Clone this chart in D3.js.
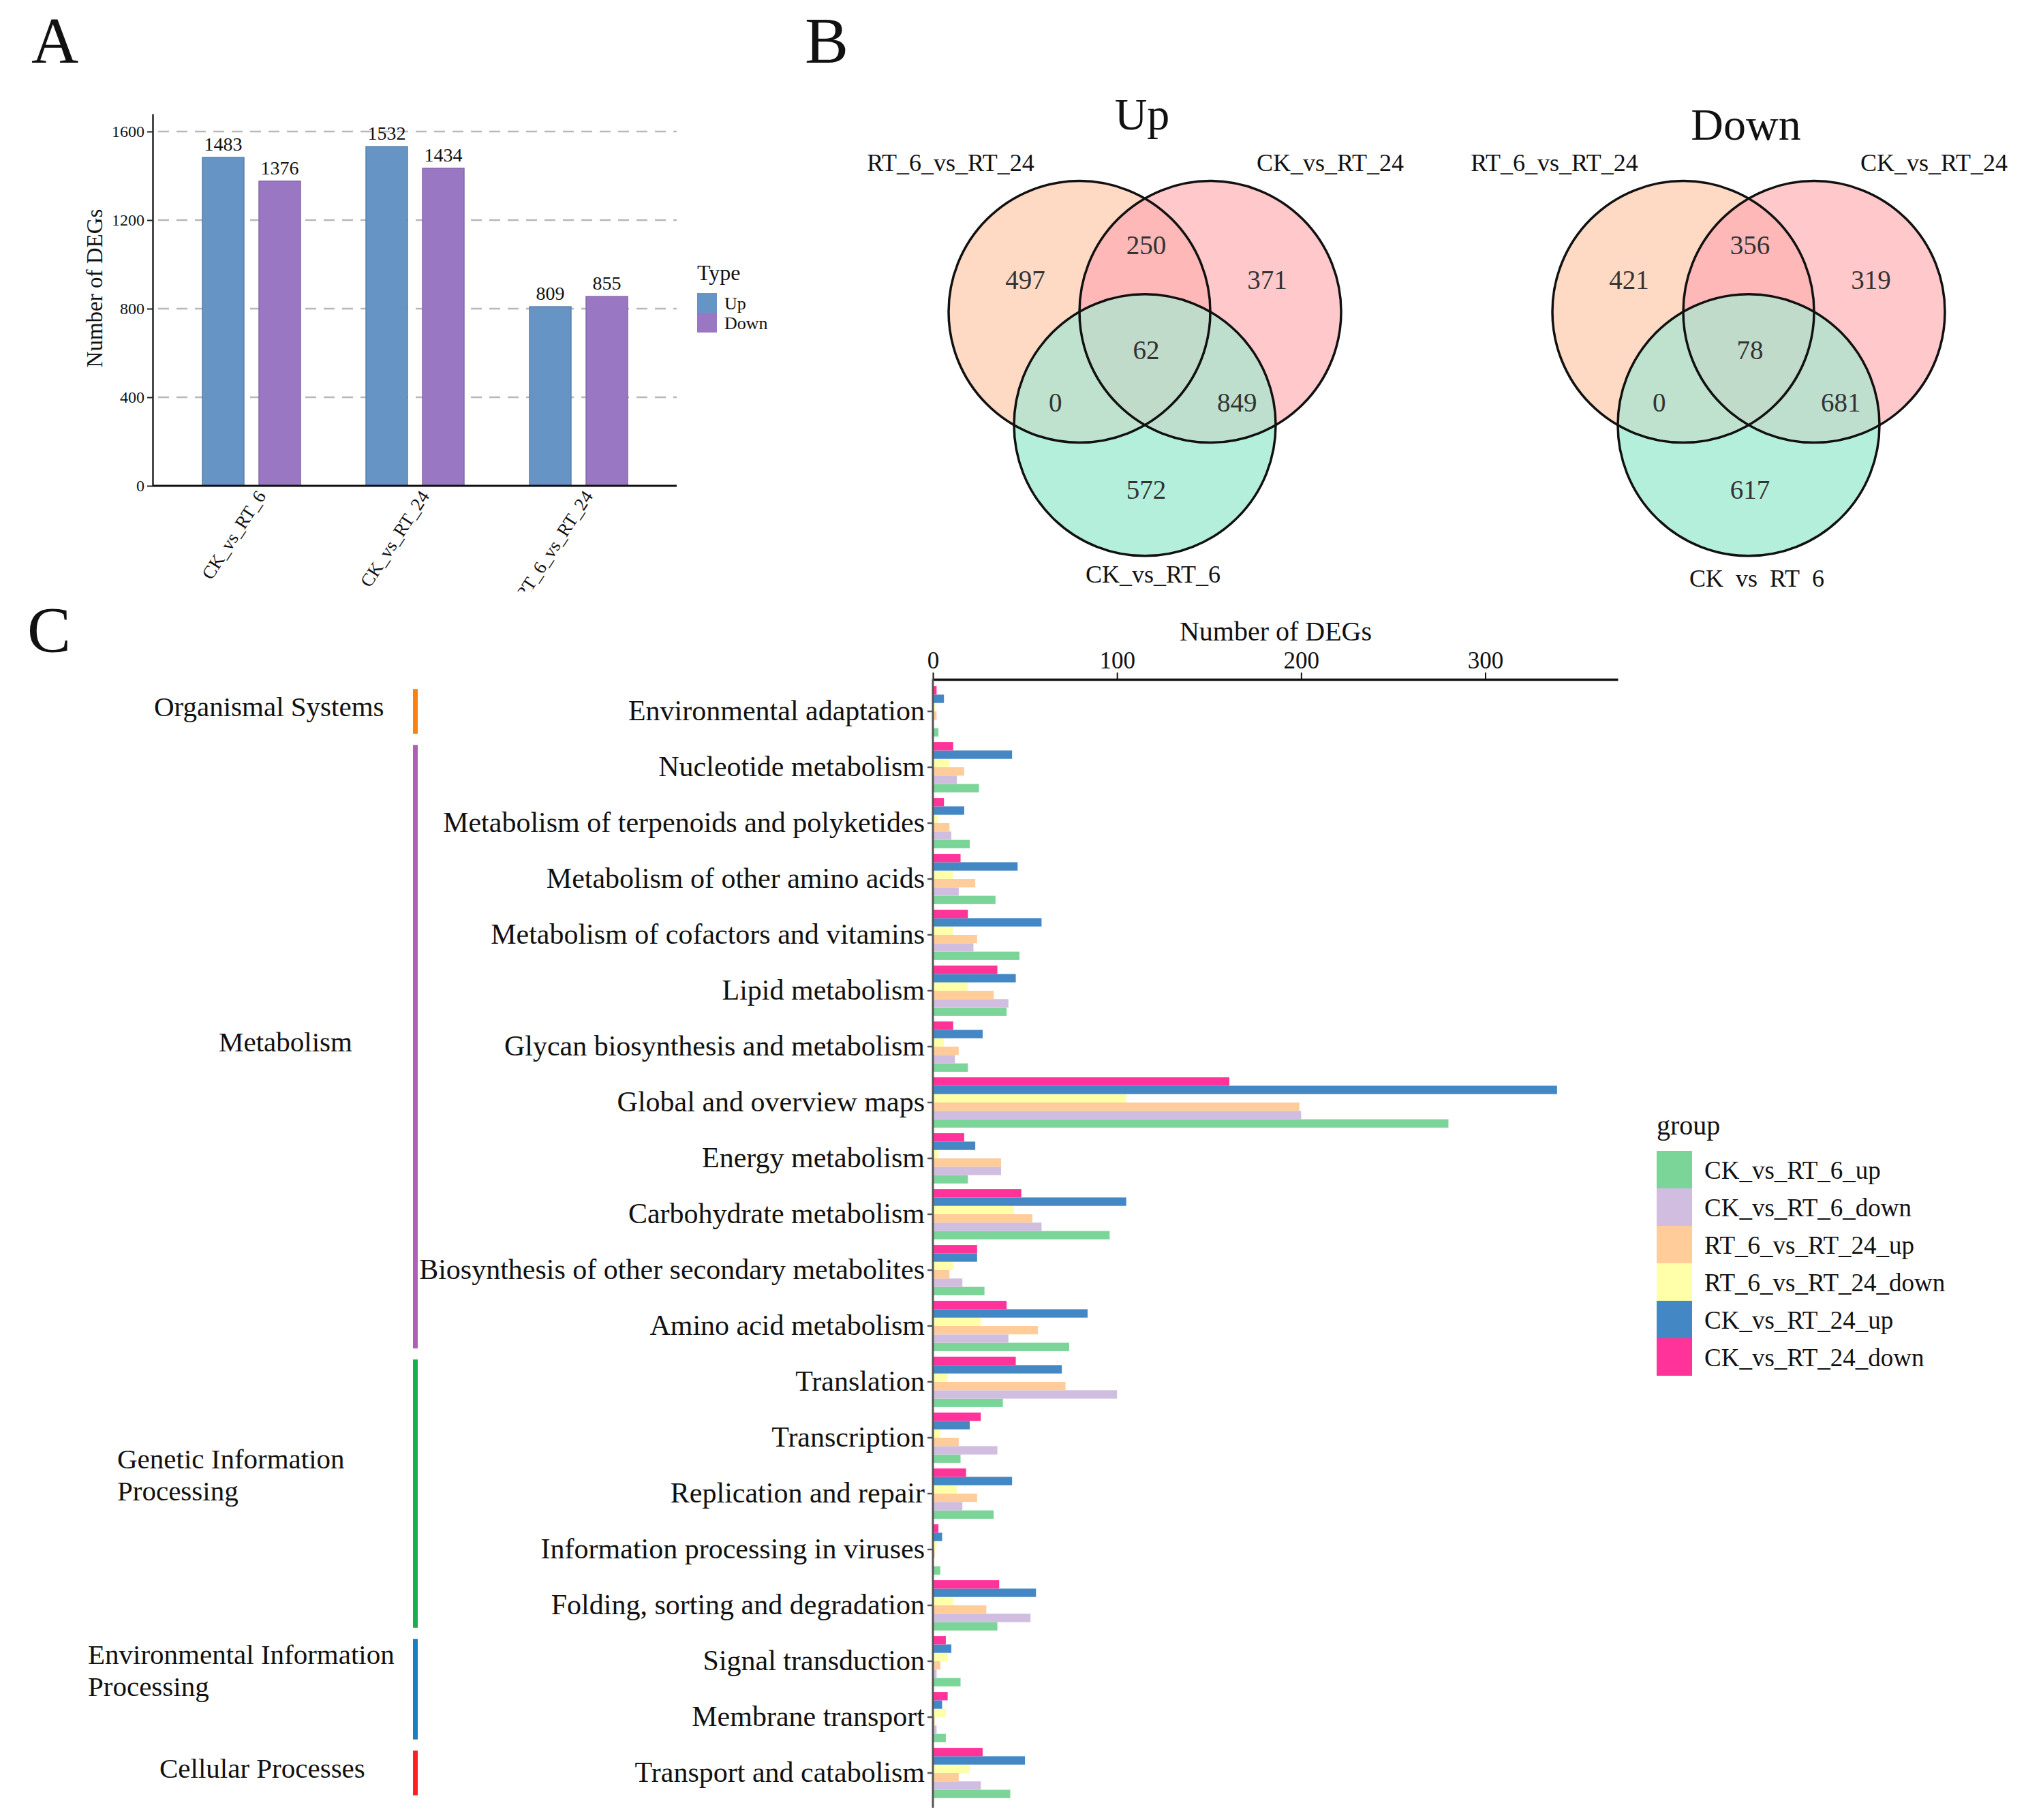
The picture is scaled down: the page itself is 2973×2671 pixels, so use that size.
<!DOCTYPE html>
<html>
<head>
<meta charset="utf-8">
<script src="https://cdn.jsdelivr.net/npm/d3@7"></script>
<style>
  body { margin: 0; background: #fff; }
  svg { display: block; }
  text { font-family: "Liberation Serif", "DejaVu Serif", serif; fill: #111; }
</style>
</head>
<body>
<svg id="fig" width="2973" height="2671"></svg>
<script>
// ---- panel A : number of DEGs per comparison
const comparisons = ['CK_vs_RT_6', 'CK_vs_RT_24', 'RT_6_vs_RT_24']
const types = ['Up', 'Down']
const upCounts = [1483, 1532, 809]
const downCounts = [1376, 1434, 855]
const countTicks = [0, 400, 800, 1200, 1600]

// ---- panel B : venn regions (A = RT_6_vs_RT_24, B = CK_vs_RT_24, C = CK_vs_RT_6)
const vennSets = ['RT_6_vs_RT_24', 'CK_vs_RT_24', 'CK_vs_RT_6']
const vennRegions = ['A', 'AB', 'B', 'ABC', 'AC', 'BC', 'C']
const vennUpCounts = [497, 250, 371, 62, 0, 849, 572]
const vennDownCounts = [421, 356, 319, 78, 0, 681, 617]

// ---- panel C : KEGG classification
const keggClasses = ['Organismal Systems', 'Metabolism', 'Genetic Information Processing',
    'Environmental Information Processing', 'Cellular Processes']
const classSizes = [1, 11, 5, 2, 1]
const pathways = ['Environmental adaptation', 'Nucleotide metabolism',
    'Metabolism of terpenoids and polyketides', 'Metabolism of other amino acids',
    'Metabolism of cofactors and vitamins', 'Lipid metabolism', 'Glycan biosynthesis and metabolism',
    'Global and overview maps', 'Energy metabolism', 'Carbohydrate metabolism',
    'Biosynthesis of other secondary metabolites', 'Amino acid metabolism', 'Translation',
    'Transcription', 'Replication and repair', 'Information processing in viruses',
    'Folding, sorting and degradation', 'Signal transduction', 'Membrane transport',
    'Transport and catabolism']
const groups = ['CK_vs_RT_6_up', 'CK_vs_RT_6_down', 'RT_6_vs_RT_24_up',
    'RT_6_vs_RT_24_down', 'CK_vs_RT_24_up', 'CK_vs_RT_24_down']
const ckRt6Up     = [3, 25, 20, 34, 47, 40, 19, 280, 19, 96, 28, 74, 38, 15, 33, 4, 35, 15, 7, 42]
const ckRt6Down   = [0, 13, 10, 14, 22, 41, 12, 200, 37, 59, 16, 41, 100, 35, 16, 0, 53, 2, 2, 26]
const rt6Rt24Up   = [2, 17, 9, 23, 24, 33, 14, 199, 37, 54, 9, 57, 72, 14, 24, 1, 29, 4, 1, 14]
const rt6Rt24Down = [1, 9, 3, 11, 11, 19, 6, 105, 3, 44, 11, 26, 8, 4, 13, 2, 11, 8, 7, 20]
const ckRt24Up    = [6, 43, 17, 46, 59, 45, 27, 339, 23, 105, 24, 84, 70, 20, 43, 5, 56, 10, 5, 50]
const ckRt24Down  = [2, 11, 6, 15, 19, 35, 11, 161, 17, 48, 24, 40, 45, 26, 18, 3, 36, 7, 8, 27]
const degTicks = [0, 100, 200, 300]

const svg = d3.select('#fig')
const defs = svg.append('defs')
svg.append('rect').attr('width', 2973).attr('height', 2671).attr('fill', '#fff')

// panel letters
svg.selectAll('.panel-letter')
    .data([['A', 46, 92], ['B', 1181, 92], ['C', 40, 957]])
    .enter().append('text')
        .attr('x', d => d[1]).attr('y', d => d[2])
        .style('font-size', '96px')
        .text(d => d[0])

// ================= panel A =================
    defs.append('clipPath').attr('id', 'clipA')
        .append('rect').attr('x', 0).attr('y', 0).attr('width', 1180).attr('height', 868)
    const gA = svg.append('g').attr('clip-path', 'url(#clipA)')

    const xA = d3.scaleBand().domain(comparisons).range([249, 969])
    const xAType = d3.scaleBand().domain(types).range([48, 192]).paddingInner(0.265)
    const yA = d3.scaleLinear().domain([0, 1680]).range([713, 167])
    const typeColor = d3.scaleOrdinal().domain(types).range(['#6594C5', '#9A77C2'])
    const rowsA = comparisons.map((c, i) => ({comp: c, Up: upCounts[i], Down: downCounts[i]}))

    // dashed grid
    gA.selectAll('.gridA')
        .data(countTicks.filter(t => t > 0))
        .enter().append('line')
            .attr('x1', 232).attr('x2', 993)
            .attr('y1', d => yA(d)).attr('y2', d => yA(d))
            .attr('stroke', '#b8b8b8').attr('stroke-width', 2.5)
            .attr('stroke-dasharray', '16,11')

    // bars
    const barsA = gA.selectAll('.barA')
        .data(rowsA.flatMap(r => types.map(t => ({comp: r.comp, type: t, value: r[t]}))))
        .enter()
    barsA.append('rect')
        .attr('x', d => xA(d.comp) + xAType(d.type))
        .attr('y', d => yA(d.value))
        .attr('width', xAType.bandwidth())
        .attr('height', d => yA(0) - yA(d.value))
        .attr('fill', d => typeColor(d.type))
        .attr('stroke', d => d3.color(typeColor(d.type)).darker(0.4))
        .attr('stroke-width', 1.5)
    barsA.append('text')
        .attr('x', d => xA(d.comp) + xAType(d.type) + xAType.bandwidth() / 2)
        .attr('y', d => yA(d.value) - 10)
        .attr('text-anchor', 'middle')
        .style('font-size', '28px')
        .text(d => d.value)

    // axes
    const yAxisA = gA.append('g')
        .attr('transform', 'translate(224,0)')
        .call(d3.axisLeft(yA).tickValues(countTicks).tickFormat(d3.format('d'))
            .tickSize(8).tickSizeOuter(0).tickPadding(4))
    yAxisA.select('.domain').attr('stroke', '#222').attr('stroke-width', 2.5)
    yAxisA.selectAll('.tick line').attr('stroke', '#222').attr('stroke-width', 2)
    yAxisA.selectAll('.tick text')
        .style('font-size', '24px').style('font-family', '"Liberation Serif", serif').attr('fill', '#111')

    gA.append('line')
        .attr('x1', 224).attr('x2', 993).attr('y1', yA(0)).attr('y2', yA(0))
        .attr('stroke', '#111').attr('stroke-width', 3)

    gA.selectAll('.xlabA')
        .data(comparisons)
        .enter().append('text')
            .attr('transform', d => `translate(${xA(d) + xA.bandwidth() / 2 + 22}, 728) rotate(-57)`)
            .attr('text-anchor', 'end')
            .style('font-size', '27px')
            .text(d => d)

    gA.append('text')
        .attr('transform', 'translate(150, 423) rotate(-90)')
        .attr('text-anchor', 'middle')
        .style('font-size', '33px')
        .text('Number of DEGs')

    // legend
    gA.append('text').attr('x', 1023).attr('y', 411).style('font-size', '32px').text('Type')
    const legA = gA.selectAll('.legA').data(types).enter().append('g')
        .attr('transform', (d, i) => `translate(1023, ${430 + i * 29})`)
    legA.append('rect').attr('width', 29).attr('height', 29).attr('fill', d => typeColor(d))
    legA.append('text').attr('x', 40).attr('y', 15).attr('dy', '0.35em')
        .style('font-size', '26px').text(d => d)

// ================= panel B =================
    const vr = 192
    const circleOffsets = [[-vr / 2, -vr / (2 * Math.sqrt(3))], [vr / 2, -vr / (2 * Math.sqrt(3))], [0, vr / Math.sqrt(3)]]
    const regionFill = {A: '#FEDAC5', B: '#FFC9CB', C: '#B4EFDC', AB: '#FDB8B7', AC: '#BFE2CF', BC: '#BEDFCE', ABC: '#C1DBCA'}
    // label direction for every region, from the centroid
    const unit = i => { const o = circleOffsets[i], l = Math.hypot(o[0], o[1]); return [o[0] / l, o[1] / l] }
    const regionPos = r => {
        if (r.length === 3) return [0, 0]
        if (r.length === 1) { const u = unit('ABC'.indexOf(r)); return [u[0] * 205, u[1] * 205] }
        const other = 'ABC'.split('').find(s => !r.includes(s))
        const u = unit('ABC'.indexOf(other)); return [-u[0] * 154, -u[1] * 154]
    }

    const drawVenn = (id, cx, cy, title, titleY, counts, bottomY, clipY) => {
        defs.append('clipPath').attr('id', `clip${id}`)
            .append('rect').attr('x', cx - 480).attr('y', 0).attr('width', 900).attr('height', clipY)
        const g = svg.append('g').attr('transform', `translate(${cx},${cy})`)
        'ABC'.split('').forEach((s, i) => {
            defs.append('clipPath').attr('id', `${id}${s}`)
                .append('circle').attr('cx', cx + circleOffsets[i][0]).attr('cy', cy + circleOffsets[i][1]).attr('r', vr)
        })
        const circ = (sel, i, fill) => sel.append('circle')
            .attr('cx', circleOffsets[i][0]).attr('cy', circleOffsets[i][1]).attr('r', vr).attr('fill', fill)
        circ(g, 0, regionFill.A); circ(g, 1, regionFill.B); circ(g, 2, regionFill.C)
        // pairwise overlaps and the centre, with clip paths
        const over = (clips, i, fill) => {
            let sel = svg.append('g')
            clips.forEach(c => { sel = sel.append('g').attr('clip-path', `url(#${id}${c})`) })
            sel.append('circle').attr('cx', cx + circleOffsets[i][0]).attr('cy', cy + circleOffsets[i][1])
                .attr('r', vr).attr('fill', fill)
        }
        over(['A'], 1, regionFill.AB)
        over(['A'], 2, regionFill.AC)
        over(['B'], 2, regionFill.BC)
        over(['A', 'B'], 2, regionFill.ABC)
        const outline = svg.append('g').attr('transform', `translate(${cx},${cy})`)
        circleOffsets.forEach((o, i) => outline.append('circle')
            .attr('cx', o[0]).attr('cy', o[1]).attr('r', vr)
            .attr('fill', 'none').attr('stroke', '#111').attr('stroke-width', 3.5))
        const labels = svg.append('g').attr('clip-path', `url(#clip${id})`)
            .append('g').attr('transform', `translate(${cx},${cy})`)
        labels.selectAll('.num').data(vennRegions.map((r, i) => ({r, v: counts[i]})))
            .enter().append('text')
                .attr('x', d => regionPos(d.r)[0] + 2).attr('y', d => regionPos(d.r)[1])
                .attr('dy', '0.35em').attr('text-anchor', 'middle')
                .style('font-size', '39px').style('fill', '#333')
                .text(d => d.v)
        labels.append('text').attr('x', -4).attr('y', titleY - cy).attr('text-anchor', 'middle')
            .style('font-size', '66px').text(title)
        const setPos = [[-285, 251 - cy], [272, 251 - cy], [12, bottomY - cy]]
        labels.selectAll('.setlab').data(vennSets).enter().append('text')
            .attr('x', (d, i) => setPos[i][0]).attr('y', (d, i) => setPos[i][1])
            .attr('text-anchor', 'middle').style('font-size', '36px')
            .text(d => d)
    }
    drawVenn('up', 1680, 513, 'Up', 190, vennUpCounts, 855, 875)
    drawVenn('down', 2566, 513, 'Down', 205, vennDownCounts, 861, 863)

// ================= panel C =================
    const series = [ckRt6Up, ckRt6Down, rt6Rt24Up, rt6Rt24Down, ckRt24Up, ckRt24Down]
    const groupColor = d3.scaleOrdinal().domain(groups)
        .range(['#7BD598', '#D0BDE0', '#FFCC9A', '#FFFFAA', '#4388C4', '#FF3399'])
    const xC = d3.scaleLinear().domain([0, 372]).range([1369, 2374])
    const yC = d3.scaleBand().domain(pathways).range([1003, 2643])
    const yInner = d3.scaleBand().domain(groups.slice().reverse()).range([0, yC.bandwidth()]).paddingOuter(0.333)
    const gC = svg.append('g')

    gC.selectAll('.cat').data(pathways).enter().append('g')
        .attr('transform', d => `translate(0, ${yC(d)})`)
        .selectAll('rect')
        .data((p, i) => groups.map((g, k) => ({group: g, value: series[k][i]})))
        .enter().append('rect')
            .attr('x', xC(0))
            .attr('y', d => yInner(d.group))
            .attr('width', d => xC(d.value) - xC(0))
            .attr('height', yInner.bandwidth())
            .attr('fill', d => groupColor(d.group))

    const xAxisC = gC.append('g').attr('transform', 'translate(0, 997)')
        .call(d3.axisTop(xC).tickValues(degTicks).tickSize(10).tickSizeOuter(0).tickPadding(6))
    xAxisC.select('.domain').attr('stroke', '#111').attr('stroke-width', 3.5)
    xAxisC.selectAll('.tick line').attr('stroke', '#111').attr('stroke-width', 2)
    xAxisC.selectAll('.tick text').style('font-size', '35px')
        .style('font-family', '"Liberation Serif", serif').attr('fill', '#111')
    gC.append('text').attr('x', 1872).attr('y', 940).attr('text-anchor', 'middle')
        .style('font-size', '40px').text('Number of DEGs')

    const yAxisC = gC.append('g').attr('transform', `translate(${xC(0)}, 0)`)
        .call(d3.axisLeft(yC).tickSize(8).tickSizeOuter(0).tickPadding(4))
    yAxisC.select('.domain').attr('stroke', '#555').attr('stroke-width', 3)
        .attr('d', 'M0,997V2653')
    yAxisC.selectAll('.tick line').attr('stroke', '#555').attr('stroke-width', 2.5)
    yAxisC.selectAll('.tick text').style('font-size', '42px')
        .style('font-family', '"Liberation Serif", serif').attr('fill', '#111')

    // class brackets and labels
    const classColor = ['#FF8010', '#B05FB6', '#18AE4C', '#1A7EC4', '#FF2020']
    const classLabelX = [226, 321, 172, 129, 234]
    let start = 0
    keggClasses.forEach((c, i) => {
        const first = pathways[start], last = pathways[start + classSizes[i] - 1]
        start += classSizes[i]
        const y0 = yC(first) + yC.bandwidth() * 0.1
        const y1 = yC(last) + yC.bandwidth() * 0.9
        gC.append('rect').attr('x', 606).attr('y', y0).attr('width', 7).attr('height', y1 - y0)
            .attr('fill', classColor[i])
        const words = c.split(' ')
        const lines = c.length > 20 ? [words.slice(0, -1).join(' '), words[words.length - 1]] : [c]
        const mid = (y0 + y1) / 2
        const t = gC.append('text').attr('x', classLabelX[i]).style('font-size', '41px')
        lines.forEach((l, k) => t.append('tspan')
            .attr('x', classLabelX[i])
            .attr('y', lines.length === 1 ? mid - 7 : mid - 51 + k * 47)
            .attr('dy', '0.35em').text(l))
    })

    // legend
    gC.append('text').attr('x', 2431).attr('y', 1665).style('font-size', '40px').text('group')
    const legC = gC.selectAll('.legC').data(groups).enter().append('g')
        .attr('transform', (d, i) => `translate(2431, ${1689 + i * 55})`)
    legC.append('rect').attr('width', 52).attr('height', 55).attr('fill', d => groupColor(d))
    legC.append('text').attr('x', 70).attr('y', 28).attr('dy', '0.35em')
        .style('font-size', '37px').text(d => d)
</script>
</body>
</html>
